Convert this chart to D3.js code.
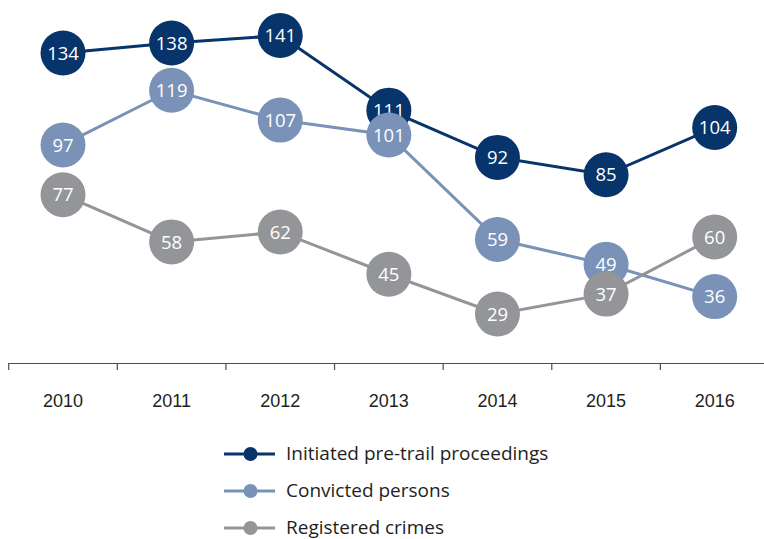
<!DOCTYPE html>
<html lang="en">
<head>
    <meta charset="UTF-8">
    <script src="https://cdn.jsdelivr.net/npm/d3@7"></script>
    <title>Crimes, proceedings and convictions 2010-2016</title>
    <style>
        body { margin: 0; background: #fff; }
        svg { font-family: "Open Sans", sans-serif; }
    </style>
</head>
<body>
    <div class="chart"></div>
    <script>
        // Data
        const years = ["2010", "2011", "2012", "2013", "2014", "2015", "2016"];
        const proceedings = [134, 138, 141, 111, 92, 85, 104];
        const convicted = [97, 119, 107, 101, 59, 49, 36];
        const registered = [77, 58, 62, 45, 29, 37, 60];
        const seriesNames = ["Initiated pre-trail proceedings", "Convicted persons", "Registered crimes"];
        const seriesColors = ["#07346a", "#7a92b7", "#939598"];

        const series = [proceedings, convicted, registered].map((vals, i) => ({
            name: seriesNames[i],
            color: seriesColors[i],
            values: vals.map((v, j) => ({ year: years[j], value: v }))
        }));

        const width = 764, height = 539;
        const axisY = 363;

        const svg = d3.select(".chart").append("svg")
            .attr("width", width)
            .attr("height", height);

        const x = d3.scaleBand().domain(years).range([8.7, 769]);
        const y = d3.scaleLinear().domain([0, 150]).range([386.1, 13.2]);
        const cx = d => x(d.year) + x.bandwidth() / 2;

        // category axis
        const axis = svg.append("g")
            .attr("transform", `translate(0,${axisY})`)
            .call(d3.axisBottom(x).tickSize(0).tickPadding(0));
        axis.select(".domain").attr("stroke", "#4d4d4f").attr("stroke-width", 1.2);
        axis.selectAll(".tick text").remove();
        const edges = d3.range(years.length + 1).map(i => 8.7 + i * x.bandwidth());
        axis.selectAll("line.sep")
            .data(edges)
            .enter().append("line")
            .attr("class", "sep")
            .attr("x1", d => d).attr("x2", d => d)
            .attr("y1", 0).attr("y2", 7)
            .attr("stroke", "#4d4d4f").attr("stroke-width", 1.2);
        axis.selectAll("text.lbl")
            .data(years)
            .enter().append("text")
            .attr("class", "lbl")
            .attr("x", d => x(d) + x.bandwidth() / 2)
            .attr("y", 43.5)
            .attr("text-anchor", "middle")
            .attr("font-size", 18)
            .attr("fill", "#231f20")
            .text(d => d);

        const line = d3.line().x(cx).y(d => y(d.value));

        // each series: line then its circles, drawn in order
        series.forEach(s => {
            const g = svg.append("g");
            g.append("path")
                .datum(s.values)
                .attr("d", line)
                .attr("fill", "none")
                .attr("stroke", s.color)
                .attr("stroke-width", 3);
            const pts = g.selectAll("g.pt")
                .data(s.values)
                .enter().append("g")
                .attr("class", "pt")
                .attr("transform", d => `translate(${cx(d)},${y(d.value)})`);
            pts.append("circle")
                .attr("r", 22.5)
                .attr("fill", s.color);
            pts.append("text")
                .attr("text-anchor", "middle")
                .attr("dy", "0.36em")
                .attr("font-size", 18.5)
                .attr("fill", "#fff")
                .text(d => d.value);
        });

        // legend
        const legend = svg.append("g")
            .selectAll("g")
            .data(series)
            .enter().append("g")
            .attr("transform", (d, i) => `translate(224,${454 + i * 37})`);
        legend.append("line")
            .attr("x1", 0).attr("x2", 51)
            .attr("stroke", d => d.color)
            .attr("stroke-width", 3);
        legend.append("circle")
            .attr("cx", 26.5)
            .attr("r", 7)
            .attr("fill", d => d.color);
        legend.append("text")
            .attr("x", 62)
            .attr("dy", "0.32em")
            .attr("font-size", 19)
            .attr("fill", "#231f20")
            .text(d => d.name);
    </script>
</body>
</html>
